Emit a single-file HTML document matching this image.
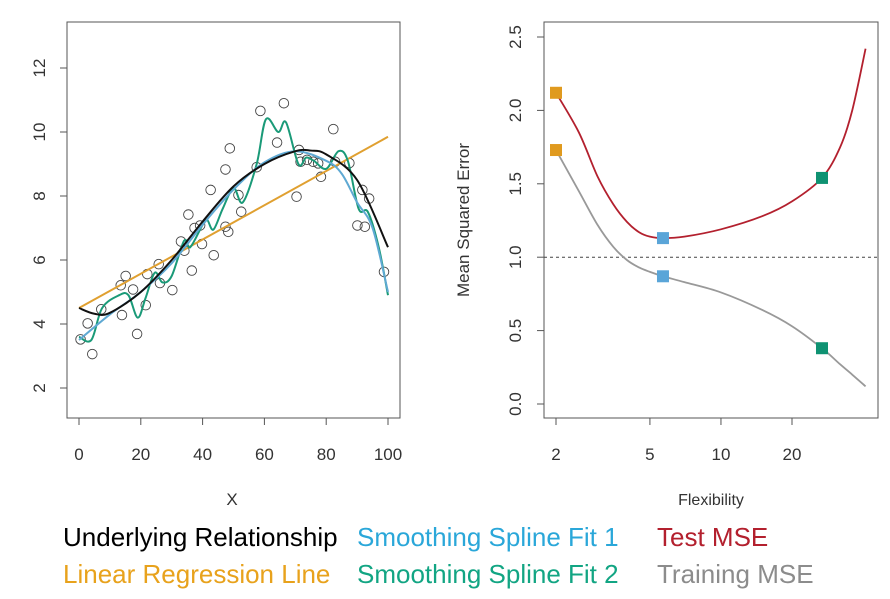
<!DOCTYPE html>
<html><head><meta charset="utf-8"><style>
body{margin:0;background:#fff;width:890px;height:599px;overflow:hidden;font-family:"Liberation Sans",sans-serif}
.leg{position:absolute;font-size:26px;white-space:nowrap}
</style></head><body>
<svg id="c" width="890" height="599" style="position:absolute;left:0;top:0"></svg>
<div class="leg" style="left:63px;top:522px;color:#000">Underlying Relationship</div>
<div class="leg" style="left:357px;top:522px;color:#2aa7d9">Smoothing Spline Fit 1</div>
<div class="leg" style="left:657px;top:522px;color:#b3202e">Test MSE</div>
<div class="leg" style="left:63px;top:559px;color:#e8a21c">Linear Regression Line</div>
<div class="leg" style="left:357px;top:559px;color:#12a583">Smoothing Spline Fit 2</div>
<div class="leg" style="left:657px;top:559px;color:#8c8c8c">Training MSE</div>
<script>
const ptsX=[0.5,2.8,4.3,7.2,13.9,13.5,15.1,17.5,18.8,21.6,22.1,25.8,26.2,30.2,33,34.1,35.4,36.5,37.4,39.2,39.8,42.6,43.6,47.4,47.4,48.3,48.8,51.6,52.5,57.5,58.7,64.1,66.3,70.4,71.2,71.7,73.8,75.8,77.4,78.3,82.3,82.9,87.5,91.7,93.9,90.1,92.5,98.7];
const ptsY=[3.52,4.02,3.06,4.46,4.28,5.21,5.5,5.08,3.69,4.59,5.56,5.87,5.28,5.06,6.58,6.29,7.42,5.67,7.0,7.08,6.5,8.19,6.15,8.83,7.04,6.88,9.49,8.03,7.51,8.9,10.66,9.67,10.9,7.98,9.44,9.07,9.13,9.07,9.02,8.6,10.09,9.07,9.03,8.19,7.92,7.08,7.04,5.63];
const trueX=[0,5,10,20,30,40,50,60,70,75,80,90,100];
const trueY=[4.5,4.32,4.35,5.0,6.0,7.2,8.3,9.0,9.4,9.42,9.3,8.5,6.4];
const linX=[0,100];
const linY=[4.5,9.85];
const sp1X=[0,10,20,30,40,50,60,70,80,85,90,95,100];
const sp1Y=[3.5,4.3,5.0,5.9,7.1,8.2,9.05,9.4,9.1,8.7,7.8,7.0,5.0];
const sp2X=[0,4,7.5,13,16,19,21.5,24.5,27,30,34,36,40,41.5,43.5,46.5,50,53,57.5,60.5,64.5,67,71,73.5,76,80,84,87,90.5,93.5,97,100];
const sp2Y=[3.6,3.5,4.5,4.9,4.9,4.2,4.8,5.6,5.3,5.5,6.6,6.4,7.1,7.25,6.95,7.6,8.25,7.8,9.0,10.4,10.0,10.3,9.0,9.2,9.1,8.85,9.4,9.1,7.6,7.5,6.4,4.9];
const leftXTicks=[0,20,40,60,80,100];
const leftYTicks=[2,4,6,8,10,12];
const flexX=[2,2.5,3,3.5,4,4.5,5,5.68,7,10,15,20,26.8,32,36,41];
const testY=[2.12,1.85,1.55,1.36,1.24,1.17,1.14,1.13,1.14,1.19,1.28,1.38,1.54,1.75,2.0,2.42];
const trainY=[1.73,1.45,1.22,1.07,0.98,0.93,0.9,0.87,0.83,0.76,0.64,0.53,0.38,0.27,0.2,0.12];
const markerFlex=[2,5.68,26.8];
const markerTest=[2.12,1.13,1.54];
const markerTrain=[1.73,0.87,0.38];
const markerColors=["#e09a1e","#5aa5d8","#0f9272"];
const rightXTicks=[2,5,10,20];
const rightYTicks=[0,0.5,1,1.5,2,2.5];

const svg=document.getElementById('c');const NS='http://www.w3.org/2000/svg';
function mk(t,a,name,p){const e=document.createElementNS(NS,t);for(const k in a)e.setAttribute(k,a[k]);


(p||svg).appendChild(e);return e;}
const lx=v=>79+v*3.09, ly=v=>132+(10-v)*32;
const rx=v=>556+Math.log10(v/2)*236, ry=v=>404-v*146.8;
function smooth(xs,ys,fx,fy){const P=xs.map((x,i)=>[fx(x),fy(ys[i])]);let d='M'+P[0][0]+','+P[0][1];
for(let i=0;i<P.length-1;i++){const p0=P[Math.max(0,i-1)],p1=P[i],p2=P[i+1],p3=P[Math.min(P.length-1,i+2)];
const c1=[p1[0]+(p2[0]-p0[0])/6,p1[1]+(p2[1]-p0[1])/6],c2=[p2[0]-(p3[0]-p1[0])/6,p2[1]-(p3[1]-p1[1])/6];
d+=` C${c1[0]},${c1[1]} ${c2[0]},${c2[1]} ${p2[0]},${p2[1]}`;}return d;}
function txt(x,y,s,name,size,rot,col){const t=mk('text',{x:x,y:y,'font-size':size,'text-anchor':'middle',fill:col||'#333','font-family':'Liberation Sans, sans-serif'},name);
if(rot)t.setAttribute('transform',`rotate(-90 ${x} ${y})`);t.textContent=s;return t;}
// left panel
mk('rect',{x:67,y:22,width:333,height:396,fill:'none',stroke:'#555','stroke-width':1},'left-plot-frame');
leftXTicks.forEach(v=>{mk('line',{x1:lx(v),x2:lx(v),y1:418,y2:425,stroke:'#555'},'left-x-tick');txt(lx(v),460,String(v),'left-x-tick-label',17);});
leftYTicks.forEach(v=>{mk('line',{x1:60,x2:67,y1:ly(v),y2:ly(v),stroke:'#555'},'left-y-tick');txt(45,ly(v),String(v),'left-y-tick-label',17,true);});
txt(232,505,'X','left-x-axis-title',17);
ptsX.forEach((x,i)=>mk('circle',{cx:lx(x),cy:ly(ptsY[i]),r:4.8,fill:'none',stroke:'#444','stroke-width':0.9},'data-point'));
mk('path',{d:smooth(linX,linY,lx,ly),fill:'none',stroke:'#e0a030','stroke-width':2},'linear-regression-line');
mk('path',{d:smooth(sp2X,sp2Y,lx,ly),fill:'none',stroke:'#1a9a78','stroke-width':2},'smoothing-spline-2-line');
mk('path',{d:smooth(sp1X,sp1Y,lx,ly),fill:'none',stroke:'#5fa9d3','stroke-width':2},'smoothing-spline-1-line');
mk('path',{d:smooth(trueX,trueY,lx,ly),fill:'none',stroke:'#111','stroke-width':2},'underlying-relationship-line');
// right panel
mk('rect',{x:544,y:22,width:334,height:396,fill:'none',stroke:'#555','stroke-width':1},'right-plot-frame');
rightXTicks.forEach(v=>{mk('line',{x1:rx(v),x2:rx(v),y1:418,y2:425,stroke:'#555'},'right-x-tick');txt(rx(v),460,String(v),'right-x-tick-label',17);});
rightYTicks.forEach(v=>{mk('line',{x1:537,x2:544,y1:ry(v),y2:ry(v),stroke:'#555'},'right-y-tick');txt(521,ry(v),v.toFixed(1),'right-y-tick-label',17,true);});
txt(711,505,'Flexibility','right-x-axis-title',16);
txt(469,220,'Mean Squared Error','right-y-axis-title',17,true);
mk('line',{x1:544,x2:878,y1:ry(1),y2:ry(1),stroke:'#444','stroke-dasharray':'3,3','stroke-width':1},'irreducible-error-line');
mk('path',{d:smooth(flexX,testY,rx,ry),fill:'none',stroke:'#b3202e','stroke-width':1.8},'test-mse-line');
mk('path',{d:smooth(flexX,trainY,rx,ry),fill:'none',stroke:'#999','stroke-width':1.8},'training-mse-line');
markerFlex.forEach((f,i)=>{
 mk('rect',{x:rx(f)-6,y:ry(markerTest[i])-6,width:12,height:12,fill:markerColors[i]},'test-mse-marker');
 mk('rect',{x:rx(f)-6,y:ry(markerTrain[i])-6,width:12,height:12,fill:markerColors[i]},'training-mse-marker');
});
</script>
</body></html>
